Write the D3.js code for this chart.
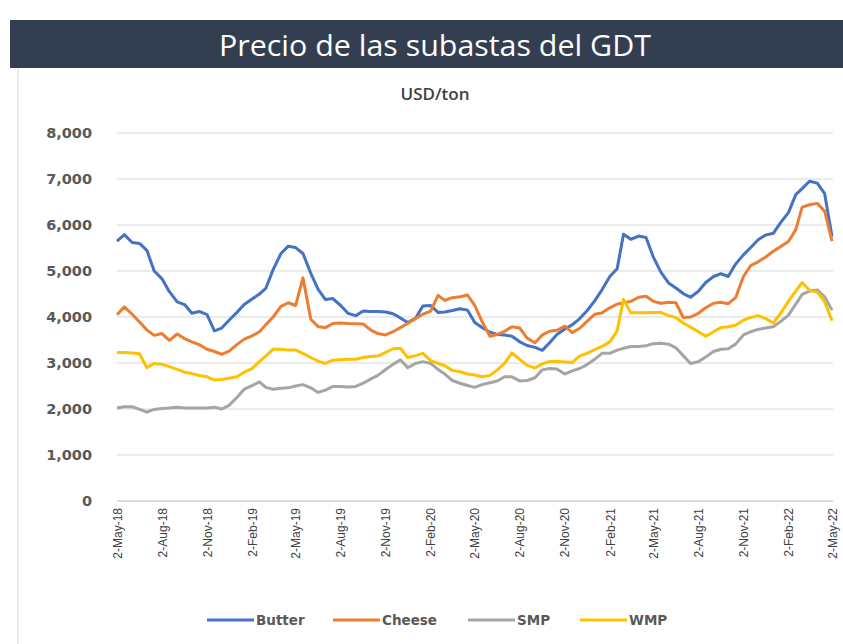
<!DOCTYPE html>
<html>
<head>
<meta charset="utf-8">
<script src="https://cdn.jsdelivr.net/npm/d3@7"></script>
<style>
  body { margin: 0; background: #fff; }
  svg { display: block; }
</style>
</head>
<body>
<div id="chart"></div>
<script>
// GDT auction dates (approx. twice a month)
const auctionDates = [
  "2018-05-02","2018-05-17","2018-06-02","2018-06-17","2018-07-02","2018-07-17","2018-08-02","2018-08-17",
  "2018-09-02","2018-09-17","2018-10-02","2018-10-17","2018-11-02","2018-11-17","2018-12-02","2018-12-17",
  "2019-01-02","2019-01-17","2019-02-02","2019-02-17","2019-03-02","2019-03-17","2019-04-02","2019-04-17",
  "2019-05-02","2019-05-17","2019-06-02","2019-06-17","2019-07-02","2019-07-17","2019-08-02","2019-08-17",
  "2019-09-02","2019-09-17","2019-10-02","2019-10-17","2019-11-02","2019-11-17","2019-12-02","2019-12-17",
  "2020-01-02","2020-01-17","2020-02-02","2020-02-17","2020-03-02","2020-03-17","2020-04-02","2020-04-17",
  "2020-05-02","2020-05-17","2020-06-02","2020-06-17","2020-07-02","2020-07-17","2020-08-02","2020-08-17",
  "2020-09-02","2020-09-17","2020-10-02","2020-10-17","2020-11-02","2020-11-17","2020-12-02","2020-12-17",
  "2021-01-02","2021-01-17","2021-02-02","2021-02-17","2021-03-02","2021-03-17","2021-04-02","2021-04-17",
  "2021-05-02","2021-05-17","2021-06-02","2021-06-17","2021-07-02","2021-07-17","2021-08-02","2021-08-17",
  "2021-09-02","2021-09-17","2021-10-02","2021-10-17","2021-11-02","2021-11-17","2021-12-02","2021-12-17",
  "2022-01-02","2022-01-17","2022-02-02","2022-02-17","2022-03-02","2022-03-17","2022-04-02","2022-04-17",
  "2022-05-02"
];

const butter = [5650,5790,5620,5600,5450,5000,4830,4550,4330,4270,4080,4120,4050,3700,3760,3930,
  4100,4270,4390,4500,4620,5030,5380,5540,5510,5380,4950,4600,4380,4400,4250,4080,
  4030,4130,4120,4120,4110,4070,3980,3880,3970,4240,4250,4100,4110,4140,4180,4150,
  3880,3770,3670,3620,3610,3580,3460,3380,3340,3275,3440,3620,3740,3830,3960,4130,
  4350,4590,4880,5050,5800,5690,5760,5730,5300,4980,4740,4630,4510,4430,4560,4750,
  4880,4940,4880,5150,5350,5510,5680,5780,5820,6050,6270,6660,6790,6950,6910,6680,
  5750];

const cheese = [4050,4220,4060,3890,3720,3600,3640,3490,3630,3530,3460,3400,3300,3250,3190,3260,
  3400,3520,3590,3680,3830,4000,4230,4310,4250,4850,3950,3790,3770,3860,3870,3860,
  3855,3850,3720,3640,3610,3680,3770,3860,3970,4060,4130,4470,4360,4420,4440,4480,
  4250,3900,3580,3620,3690,3790,3760,3540,3440,3610,3690,3710,3800,3660,3750,3900,
  4060,4090,4200,4280,4310,4340,4430,4450,4340,4300,4320,4310,3990,4000,4080,4200,
  4300,4320,4290,4420,4880,5120,5200,5300,5430,5530,5640,5900,6390,6440,6470,6300,
  5650];

const smp = [2020,2050,2050,1990,1930,1990,2010,2020,2040,2020,2020,2020,2020,2040,2000,2080,
  2250,2430,2510,2590,2470,2430,2450,2460,2500,2530,2460,2360,2410,2490,2490,2480,
  2490,2560,2650,2730,2860,2970,3070,2900,2990,3030,2990,2860,2760,2620,2560,2510,
  2470,2530,2570,2610,2700,2700,2610,2620,2680,2850,2880,2870,2760,2830,2880,2960,
  3080,3210,3210,3280,3320,3360,3360,3375,3420,3430,3410,3330,3160,2990,3030,3130,
  3250,3300,3310,3410,3610,3680,3730,3760,3790,3900,4040,4280,4490,4560,4590,4440,
  4150];

const wmp = [3230,3230,3220,3200,2900,2990,2970,2920,2860,2800,2770,2730,2700,2630,2640,2670,
  2700,2800,2880,3030,3150,3300,3300,3280,3280,3210,3120,3040,2990,3060,3070,3080,
  3080,3120,3140,3150,3230,3310,3320,3120,3160,3210,3050,2990,2940,2840,2810,2760,
  2740,2700,2730,2850,2990,3220,3080,2950,2890,2980,3030,3030,3020,3010,3150,3210,
  3290,3360,3460,3700,4380,4090,4090,4090,4100,4100,4030,3990,3870,3780,3680,3580,
  3680,3770,3790,3820,3930,3990,4030,3970,3870,4080,4340,4560,4750,4580,4540,4330,
  3920];

const tickDates = ["2018-05-02","2018-08-02","2018-11-02","2019-02-02","2019-05-02","2019-08-02",
  "2019-11-02","2020-02-02","2020-05-02","2020-08-02","2020-11-02","2021-02-02","2021-05-02",
  "2021-08-02","2021-11-02","2022-02-02","2022-05-02"];
const yTicks = [0,1000,2000,3000,4000,5000,6000,7000,8000];

const seriesNames = ["Butter","Cheese","SMP","WMP"];
const seriesColors = ["#4472C4","#ED7D31","#A5A5A5","#FFC000"];

const width = 843, height = 644;
const parse = d3.timeParse("%Y-%m-%d");
const dates = auctionDates.map(parse);

const svg = d3.select("#chart").append("svg")
  .attr("width", width)
  .attr("height", height);

// chart frame line on the left
svg.append("line")
  .attr("x1", 18).attr("x2", 18)
  .attr("y1", 68).attr("y2", 644)
  .attr("stroke", "#d9d9d9")
  .attr("stroke-width", 1);

// title banner
svg.append("rect")
  .attr("x", 10).attr("y", 20)
  .attr("width", width - 10).attr("height", 48)
  .attr("fill", "#333F50");

svg.append("text")
  .attr("x", 435).attr("y", 44)
  .attr("text-anchor", "middle")
  .attr("dominant-baseline", "central")
  .style("font-family", "'Open Sans', sans-serif")
  .style("font-size", "30px")
  .attr("textLength", 432)
  .attr("lengthAdjust", "spacingAndGlyphs")
  .style("fill", "#ffffff")
  .text("Precio de las subastas del GDT");

svg.append("text")
  .attr("x", 435).attr("y", 93)
  .attr("text-anchor", "middle")
  .attr("dominant-baseline", "central")
  .style("font-family", "'Open Sans', sans-serif")
  .style("font-size", "17px")
  .style("font-weight", "600")
  .style("fill", "#404040")
  .text("USD/ton");

const x = d3.scaleTime()
  .domain([parse("2018-05-02"), parse("2022-05-02")])
  .range([117, 832]);

const y = d3.scaleLinear()
  .domain([0, 8000])
  .range([501, 133]);

// gridlines
svg.append("g")
  .selectAll("line")
  .data(yTicks)
  .enter()
  .append("line")
  .attr("x1", 117).attr("x2", 833)
  .attr("y1", d => y(d)).attr("y2", d => y(d))
  .attr("stroke", d => d === 0 ? "#d0d0d0" : "#e4e4e4")
  .attr("stroke-width", 1.5);

// y axis labels
const yAxis = svg.append("g")
  .attr("transform", "translate(100,0)")
  .call(d3.axisLeft(y).tickValues(yTicks).tickFormat(d3.format(",")).tickSize(0).tickPadding(8));
yAxis.select(".domain").remove();
yAxis.selectAll("text")
  .style("font-family", "'DejaVu Sans', sans-serif")
  .style("font-size", "14.5px")
  .style("font-weight", "bold")
  .style("fill", "#595959");

// x axis labels
const xAxis = svg.append("g")
  .attr("transform", "translate(0,503)")
  .call(d3.axisBottom(x).tickValues(tickDates.map(parse)).tickFormat(d3.timeFormat("%-d-%b-%y")).tickSize(0));
xAxis.select(".domain").remove();
xAxis.selectAll("text")
  .attr("transform", "rotate(-90)")
  .attr("text-anchor", "end")
  .attr("x", -5)
  .attr("y", 0)
  .attr("dy", "0.35em")
  .style("font-family", "'Liberation Sans', Arial, sans-serif")
  .style("font-size", "12px")
  .style("fill", "#404040");

// lines
const seriesData = [butter, cheese, smp, wmp];
const line = d3.line()
  .x(d => x(d[0]))
  .y(d => y(d[1]));

svg.append("g")
  .selectAll("path")
  .data(seriesData)
  .enter()
  .append("path")
  .attr("d", vals => line(vals.map((v, i) => [dates[i], v])))
  .attr("fill", "none")
  .attr("stroke", (d, i) => seriesColors[i])
  .attr("stroke-width", 3)
  .attr("stroke-linejoin", "round");

// legend
const legendX = [207, 333, 468, 580];
const legend = svg.append("g");
const legendItems = legend.selectAll("g")
  .data(seriesNames)
  .enter()
  .append("g")
  .attr("transform", (d, i) => `translate(${legendX[i]},620)`);

legendItems.append("line")
  .attr("x1", 0).attr("x2", 47)
  .attr("y1", 0).attr("y2", 0)
  .attr("stroke", (d, i) => seriesColors[i])
  .attr("stroke-width", 3);

legendItems.append("text")
  .attr("x", 49)
  .attr("y", 0)
  .attr("dominant-baseline", "central")
  .style("font-family", "'DejaVu Sans', sans-serif")
  .style("font-size", "13.5px")
  .style("font-weight", "bold")
  .style("fill", "#595959")
  .text(d => d);
</script>
</body>
</html>
